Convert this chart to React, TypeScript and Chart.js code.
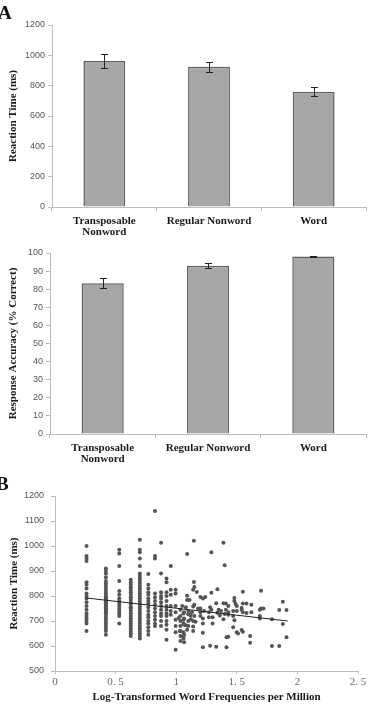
import React, { useEffect, useRef } from "react";
import { Chart, registerables } from "chart.js";

Chart.register(...registerables);
Chart.defaults.font.family = "Liberation Sans";

// ---- Panel A: group means with error bars ----
const conditions = [["Transposable", "Nonword"], "Regular Nonword", "Word"];
const rtMeans = [963, 925, 760];
const rtErrors = [45, 33, 31];
const rtTicks = { min: 0, max: 1200, step: 200 };
const accMeans = [83.3, 93.0, 98.0];
const accErrors = [2.8, 1.2, 0.3];
const accTicks = { min: 0, max: 100, step: 10 };

// ---- Panel B: item reaction times vs. log word frequency ----
const freqColumns = [0.26, 0.42, 0.53, 0.625, 0.7, 0.77, 0.825, 0.875, 0.92, 0.955, 0.995, 1.035, 1.065];
const columnRTs = [
  [1000, 960, 950, 940, 855, 845, 830, 810, 800, 790, 775, 760, 745, 730, 720, 710, 700, 690, 660],
  [910, 900, 890, 875, 860, 850, 840, 830, 820, 810, 800, 795, 790, 785, 780, 775, 770, 765, 760, 755, 750, 745, 740, 735, 730, 720, 710, 700, 690, 680, 670, 660, 645],
  [985, 970, 920, 860, 820, 805, 790, 780, 770, 760, 750, 740, 730, 720, 690],
  [865, 855, 845, 835, 825, 815, 805, 795, 785, 775, 765, 755, 750, 740, 730, 720, 710, 700, 690, 680, 670, 660, 650, 640],
  [1025, 985, 975, 950, 920, 890, 880, 870, 860, 850, 840, 830, 820, 810, 800, 790, 780, 770, 760, 750, 740, 730, 720, 710, 700, 690, 680, 670, 660, 650, 640, 630],
  [888, 845, 830, 815, 805, 790, 780, 770, 755, 740, 725, 715, 700, 690, 675, 660, 645],
  [1140, 960, 950, 810, 795, 780, 765, 750, 735, 720, 705, 690, 680],
  [1013, 890, 815, 800, 790, 775, 760, 745, 730, 720, 700, 680],
  [870, 855, 815, 800, 780, 760, 745, 730, 720, 700, 685, 665, 625],
  [920, 825, 805, 760, 740, 725],
  [825, 810, 760, 735, 705, 680, 655, 585],
  [745, 720, 700, 680, 660, 640, 620],
  [735, 710, 685, 645, 615],
];
const highFreqItems: [number, number][] = [
  [1.09, 968], [1.146, 1021], [1.29, 975], [1.39, 1013], [1.4, 923],
  [1.146, 856], [1.15, 836], [1.14, 825], [1.17, 816], [1.09, 801],
  [1.2, 796], [1.22, 790], [1.24, 796], [1.29, 813], [1.34, 827],
  [1.09, 784], [1.11, 784], [1.33, 771], [1.39, 771],
  [1.15, 765], [1.14, 758], [1.18, 750],
  [1.05, 760], [1.08, 755], [1.1, 740], [1.13, 735],
  [1.2, 750], [1.23, 740], [1.28, 755], [1.29, 745], [1.35, 745], [1.37, 740],
  [1.2, 735], [1.2, 720],
  [1.06, 730], [1.1, 727], [1.12, 722], [1.15, 720],
  [1.27, 735], [1.34, 733], [1.43, 735],
  [1.02, 712], [1.06, 705], [1.1, 700], [1.12, 707], [1.14, 700], [1.16, 697],
  [1.22, 710], [1.27, 715], [1.3, 715], [1.36, 722], [1.39, 707],
  [1.06, 690], [1.08, 683], [1.1, 680], [1.14, 678],
  [1.22, 690], [1.3, 690],
  [1.03, 660], [1.06, 655], [1.09, 665], [1.14, 660], [1.22, 653],
  [1.06, 637], [1.06, 630],
  [1.22, 595], [1.28, 601], [1.33, 597], [1.415, 595], [1.415, 635],
  [1.48, 792], [1.48, 780], [1.49, 768],
  [1.41, 770], [1.43, 760], [1.41, 745],
  [1.55, 770], [1.58, 770], [1.62, 765],
  [1.5, 760], [1.54, 752], [1.54, 745],
  [1.7, 750], [1.72, 750], [1.69, 745],
  [1.47, 740], [1.5, 740],
  [1.55, 735], [1.58, 732], [1.62, 735],
  [1.4, 728], [1.43, 725],
  [1.69, 720], [1.69, 710],
  [1.47, 720], [1.48, 703],
  [1.47, 675], [1.54, 664], [1.55, 657], [1.5, 655], [1.51, 650],
  [1.43, 637], [1.61, 640], [1.61, 613],
  [1.55, 817], [1.7, 821],
  [1.79, 600], [1.85, 600],
  [1.88, 777], [1.85, 744], [1.91, 744], [1.79, 707], [1.88, 688], [1.91, 635],
];
const fitX = [0.26, 1.92];
const fitY = [792, 700];
const freqTickLabels = ["0", "0. 5", "1", "1. 5", "2", "2. 5"];

const serifBold = (size: number, lineHeight = 1.2) => ({
  family: "Liberation Serif",
  size,
  weight: "bold" as const,
  lineHeight,
});

const axisGrey = "#bdbdbd";
const plainNumber = (v: any) => String(v);

// Draws mean ± error whiskers over each bar.
const errorBars = {
  id: "errorBars",
  afterDatasetsDraw(chart: any, _args: any, opts: any) {
    const errs: number[] = opts.errors || [];
    const meta = chart.getDatasetMeta(0);
    const yScale = chart.scales.y;
    const values = chart.data.datasets[0].data as number[];
    const ctx = chart.ctx;
    ctx.save();
    ctx.strokeStyle = "#222";
    ctx.lineWidth = 1;
    meta.data.forEach((bar: any, i: number) => {
      const top = Math.round(yScale.getPixelForValue(values[i] + errs[i])) + 0.5;
      const bot = Math.round(yScale.getPixelForValue(values[i] - errs[i])) + 0.5;
      const x = Math.round(bar.x) + 0.5;
      ctx.beginPath();
      ctx.moveTo(x, top);
      ctx.lineTo(x, bot);
      ctx.moveTo(x - 3.5, top);
      ctx.lineTo(x + 3.5, top);
      ctx.moveTo(x - 3.5, bot);
      ctx.lineTo(x + 3.5, bot);
      ctx.stroke();
    });
    ctx.restore();
  },
};

type BarPanel = {
  values: number[];
  errors: number[];
  range: { min: number; max: number; step: number };
  title: string;
  padTop: number;
  yWidth: number;
  xHeight: number;
};

function barConfig(p: BarPanel): any {
  return {
    type: "bar",
    data: {
      labels: conditions,
      datasets: [
        {
          data: p.values,
          backgroundColor: "#a6a6a6",
          borderColor: "#5e5e5e",
          borderWidth: 1.5,
          barPercentage: 0.4,
          categoryPercentage: 1,
        },
      ],
    },
    plugins: [errorBars],
    options: {
      animation: false,
      responsive: false,
      maintainAspectRatio: false,
      layout: { padding: { top: p.padTop, right: 12, left: 0, bottom: 0 } },
      plugins: {
        legend: { display: false },
        tooltip: { enabled: false },
        errorBars: { errors: p.errors },
      },
      scales: {
        x: {
          offset: true,
          grid: { offset: true, drawOnChartArea: false, drawTicks: true, tickLength: 4, color: axisGrey },
          border: { color: axisGrey },
          ticks: {
            color: "#1a1a1a",
            font: serifBold(11, 1.05),
            padding: 4,
            maxRotation: 0,
            autoSkip: false,
          },
          afterFit: (s: any) => {
            s.height = p.xHeight;
          },
        },
        y: {
          min: p.range.min,
          max: p.range.max,
          ticks: {
            stepSize: p.range.step,
            color: "#555",
            font: { family: "Liberation Sans", size: 9 },
            padding: 3,
            callback: plainNumber,
          },
          grid: { drawOnChartArea: false, drawTicks: true, tickLength: 4, color: axisGrey },
          border: { color: axisGrey },
          title: {
            display: true,
            text: p.title,
            color: "#1a1a1a",
            font: serifBold(11),
            padding: { top: 7, bottom: 0 },
          },
          afterFit: (s: any) => {
            s.width = p.yWidth;
          },
        },
      },
    },
  };
}

function scatterConfig(): any {
  const points: { x: number; y: number }[] = [];
  freqColumns.forEach((fx, i) => columnRTs[i].forEach((rt) => points.push({ x: fx, y: rt })));
  highFreqItems.forEach(([fx, rt]) => points.push({ x: fx, y: rt }));
  const fit = fitX.map((fx, i) => ({ x: fx, y: fitY[i] }));
  return {
    type: "scatter",
    data: {
      datasets: [
        {
          data: points,
          pointRadius: 2,
          pointBackgroundColor: "#555",
          pointBorderWidth: 0,
          order: 2,
        },
        {
          type: "line",
          data: fit,
          borderColor: "#222",
          borderWidth: 1,
          pointRadius: 0,
          showLine: true,
          fill: false,
          order: 1,
        },
      ],
    },
    options: {
      animation: false,
      responsive: false,
      maintainAspectRatio: false,
      layout: { padding: { top: 26, right: 20, left: 0, bottom: 0 } },
      plugins: { legend: { display: false }, tooltip: { enabled: false } },
      scales: {
        x: {
          type: "linear",
          min: 0,
          max: 2.5,
          ticks: {
            stepSize: 0.5,
            color: "#666",
            font: { family: "Liberation Serif", size: 11 },
            padding: 2,
            maxRotation: 0,
            callback: (_v: any, i: number) => freqTickLabels[i],
          },
          grid: { drawOnChartArea: false, drawTicks: true, tickLength: 3, color: axisGrey },
          border: { color: axisGrey },
          title: {
            display: true,
            text: "Log-Transformed Word Frequencies per Million",
            color: "#1a1a1a",
            font: serifBold(11),
            padding: { top: 0, bottom: 1 },
          },
          afterFit: (s: any) => {
            s.height = 34;
          },
        },
        y: {
          min: 500,
          max: 1200,
          ticks: {
            stepSize: 100,
            color: "#555",
            font: { family: "Liberation Sans", size: 9 },
            padding: 7,
            callback: plainNumber,
          },
          grid: { drawOnChartArea: false, drawTicks: true, tickLength: 4, color: axisGrey },
          border: { color: axisGrey },
          title: {
            display: true,
            text: "Reaction Time (ms)",
            color: "#1a1a1a",
            font: serifBold(11),
            padding: { top: 8, bottom: 0 },
          },
          afterFit: (s: any) => {
            s.width = 55;
          },
        },
      },
    },
  };
}

function ChartCanvas({ top, height, build }: { top: number; height: number; build: () => any }) {
  const ref = useRef<HTMLCanvasElement | null>(null);
  useEffect(() => {
    if (!ref.current) return;
    const chart = new Chart(ref.current, build());
    return () => chart.destroy();
  }, [build]);
  return (
    <canvas
      ref={ref}
      width={378}
      height={height}
      style={{ position: "absolute", left: 0, top, width: 378, height, display: "block" }}
    />
  );
}

const buildRT = () =>
  barConfig({ values: rtMeans, errors: rtErrors, range: rtTicks, title: "Reaction Time (ms)", padTop: 25, yWidth: 52, xHeight: 35 });
const buildAcc = () =>
  barConfig({ values: accMeans, errors: accErrors, range: accTicks, title: "Response Accuracy (% Correct)", padTop: 13, yWidth: 50, xHeight: 36 });
const buildScatter = () => scatterConfig();

const panelLetter: React.CSSProperties = {
  position: "absolute",
  fontFamily: "Liberation Serif",
  fontWeight: "bold",
  fontSize: 19,
  lineHeight: 1,
  color: "#111",
};

export default function App() {
  return (
    <div style={{ position: "absolute", left: 0, top: 0, width: 378, height: 705, background: "#fff", overflow: "hidden" }}>
      <ChartCanvas top={0} height={242} build={buildRT} />
      <ChartCanvas top={240} height={230} build={buildAcc} />
      <ChartCanvas top={470} height={235} build={buildScatter} />
      <div style={{ ...panelLetter, left: -2, top: 3 }}>A</div>
      <div style={{ ...panelLetter, left: -4, top: 474 }}>B</div>
    </div>
  );
}
